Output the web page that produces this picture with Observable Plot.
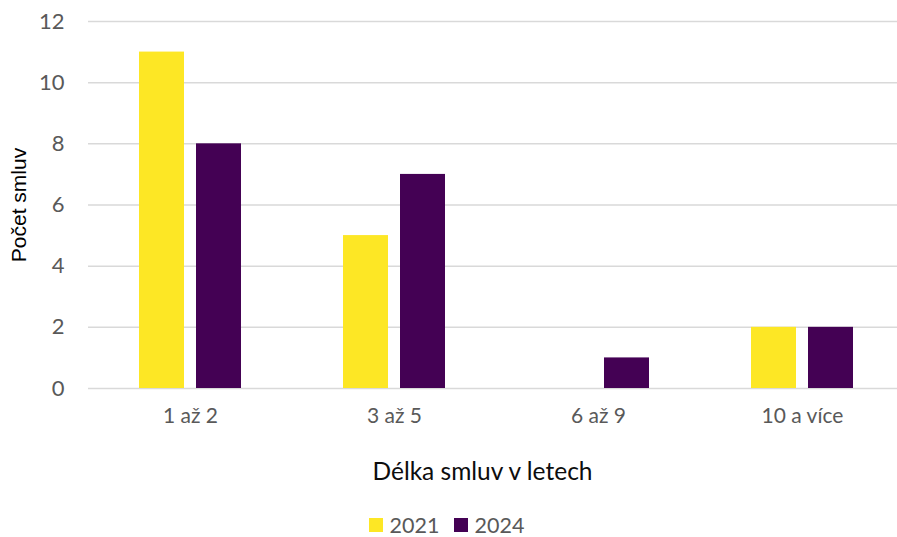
<!DOCTYPE html>
<html><head><meta charset="utf-8">
<script src="https://cdn.jsdelivr.net/npm/d3@7"></script>
<script src="https://cdn.jsdelivr.net/npm/@observablehq/plot@0.6"></script>
<style>
html,body{margin:0;padding:0;background:#fff;overflow:hidden;width:897px;height:537px;position:relative}
#legend{position:absolute;left:0;width:897px;top:515px;display:flex;justify-content:center;align-items:center;gap:14px;margin-left:-2px;font-family:Lato,"Open Sans",sans-serif;font-size:21.5px;color:#595959;height:20px;line-height:20px}
#legend .item{display:flex;align-items:center;gap:7px;height:20px}
#legend .sw{width:14px;height:14px;display:inline-block}
</style></head><body>
<div id="chart"></div>
<div id="legend"></div>
<script>
const categories = ["1 až 2", "3 až 5", "6 až 9", "10 a více"];
const years = ["2021", "2024"];
const values2021 = [11, 5, 0, 2];
const values2024 = [8, 7, 1, 2];
const yTicks = [0, 2, 4, 6, 8, 10, 12];
const colors = ["#FDE725", "#440154"];
const xTitle = "Délka smluv v letech";
const yTitle = "Počet smluv";

const data = categories.flatMap((c, i) => [
  {cat: c, year: years[0], value: values2021[i]},
  {cat: c, year: years[1], value: values2024[i]}
]);

const chart = Plot.plot({
  width: 897, height: 500,
  marginTop: 21, marginBottom: 112, marginLeft: 87, marginRight: 0,
  style: {fontFamily: "Lato, 'Open Sans', sans-serif", color: "#595959", background: "#fff"},
  fx: {domain: categories, range: [87, 905], padding: 0},
  x: {domain: years, paddingInner: 0.207, paddingOuter: 0.866},
  y: {domain: [0, 12]},
  color: {domain: years, range: colors},
  marks: [
    Plot.gridY(yTicks, {stroke: "#d9d9d9", strokeOpacity: 1, strokeWidth: 1.5}),
    Plot.barY(data, {fx: "cat", x: "year", y: "value", fill: "year"}),
    Plot.axisX({ticks: [], label: null}),
    Plot.axisFx({anchor: "bottom", tickSize: 0, tickPadding: 20, fontSize: 21, fill: "#595959", label: null}),
    Plot.axisFx({anchor: "bottom", ticks: [], label: xTitle, labelAnchor: "center", labelOffset: 91, fontSize: 24.5, fill: "#0d0d0d"}),
    Plot.axisY({ticks: yTicks, tickSize: 0, tickPadding: 24, fontSize: 22, fill: "#595959", label: null}),
    Plot.axisY({ticks: [], label: yTitle, labelArrow: "none", labelAnchor: "center", labelOffset: 77, fontSize: 21, fontFamily: "'Liberation Sans', Arial, sans-serif", fill: "#000"})
  ]
});
document.getElementById("chart").appendChild(chart);

// nudge x-axis title to the frame centre
chart.querySelectorAll("text").forEach(t => {
  if (t.textContent.trim() === xTitle) {
    const g = t.closest("g") || t;
    g.setAttribute("transform", ((g.getAttribute("transform") || "") + " translate(-14,0)").trim());
  }
});

const legend = document.getElementById("legend");
years.forEach((y, i) => {
  const item = document.createElement("div");
  item.className = "item";
  const sw = document.createElement("span");
  sw.className = "sw";
  sw.style.background = colors[i];
  const t = document.createElement("span");
  t.textContent = y;
  item.appendChild(sw); item.appendChild(t);
  legend.appendChild(item);
});
</script>
</body></html>
